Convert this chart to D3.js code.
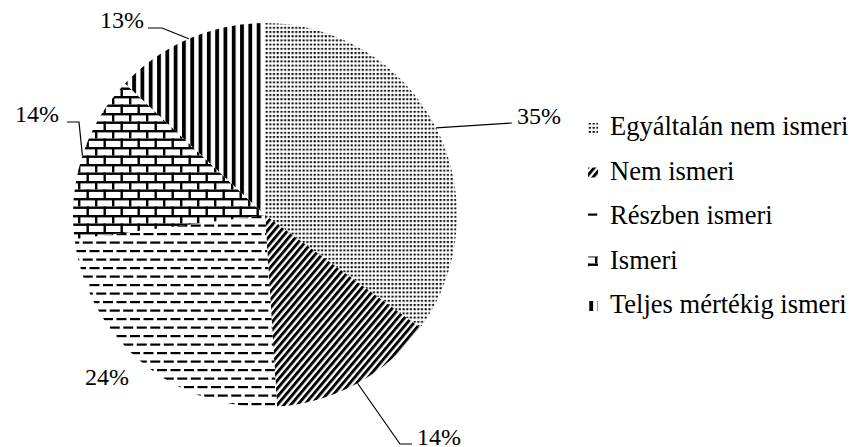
<!DOCTYPE html>
<html><head><meta charset="utf-8">
<script src="https://cdn.jsdelivr.net/npm/d3@7"></script>
<style>body{margin:0;background:#fff}svg{display:block}</style>
</head><body>
<svg id="c" width="853" height="447"></svg>
<script>
const categories = ["Egyáltalán nem ismeri","Nem ismeri","Részben ismeri","Ismeri","Teljes mértékig ismeri"];
const values = [35,14,24,14,13];
const labels = ["35%","14%","24%","14%","13%"];

const svg = d3.select("#c");
const defs = svg.append("defs");
const cx = 265, cy = 215, R = 192;
const FONT = '"Liberation Serif"';

function pat(id,w,h,build,transform){
  const p = defs.append("pattern").attr("id",id).attr("patternUnits","userSpaceOnUse")
    .attr("width",w).attr("height",h);
  if(transform) p.attr("patternTransform",transform);
  p.append("rect").attr("width",w).attr("height",h).attr("fill","#fff");
  build(p);
}
pat("p0",3.7,4.2,p=>p.append("rect").attr("x",0.6).attr("y",0.8).attr("width",2).attr("height",2).attr("fill","#000"));
pat("p1",5.2,5.2,p=>p.append("rect").attr("x",0).attr("y",0).attr("width",2.9).attr("height",5.2).attr("fill","#000"),"rotate(40)");
pat("p2",27,17,p=>{
  [[0,1],[13.5,1],[6.75,9.5],[20.25,9.5],[-6.75,9.5]].forEach(([x,y])=>
    p.append("rect").attr("x",x).attr("y",y).attr("width",10).attr("height",2.2).attr("fill","#000"));
});
pat("p3",17,17,p=>{
  p.append("rect").attr("x",0).attr("y",0).attr("width",17).attr("height",2.4).attr("fill","#000");
  p.append("rect").attr("x",0).attr("y",8.5).attr("width",17).attr("height",2.4).attr("fill","#000");
  p.append("rect").attr("x",0).attr("y",0).attr("width",2.4).attr("height",8.5).attr("fill","#000");
  p.append("rect").attr("x",8.5).attr("y",8.5).attr("width",2.4).attr("height",8.5).attr("fill","#000");
});
pat("p4",8.3,10,p=>p.append("rect").attr("x",0).attr("y",0).attr("width",3.8).attr("height",10).attr("fill","#000"));

const pie = d3.pie().sort(null).value(d=>d)(values);
const arc = d3.arc().innerRadius(0).outerRadius(R);
const edge = d3.arc().innerRadius(R).outerRadius(R);
const g = svg.append("g").attr("transform",`translate(${cx},${cy})`);
g.selectAll("path").data(pie).join("path").attr("d",arc).attr("fill",(d,i)=>`url(#p${i})`);

const labelLayout = [
  {x:517,y:124,pts:[[512,123]]},
  {x:417,y:445,pts:[[400,444],[412,444]]},
  {x:85,y:385,pts:null},
  {x:15,y:122,pts:[[79,122],[67,122]]},
  {x:100,y:28,pts:[[162,28],[148,28]]}
];
pie.forEach((d,i)=>{
  const L = labelLayout[i];
  if(L.pts){
    const c = edge.centroid(d);
    const pts = [[cx+c[0],cy+c[1]]].concat(L.pts);
    svg.append("path").attr("d",d3.line()(pts)).attr("fill","none").attr("stroke","#000").attr("stroke-width",1.2);
  }
  svg.append("text").attr("x",L.x).attr("y",L.y).style("font-family",FONT).style("font-size","24px")
    .attr("fill","#000").text(labels[i]);
});

const lg = svg.append("g");
categories.forEach((c,i)=>{
  const y = 135 + i*44.5;
  lg.append("rect").attr("x",588).attr("y",y-12).attr("width",10).attr("height",10).attr("fill",`url(#p${i})`);
  lg.append("text").attr("x",610).attr("y",y).style("font-family",FONT).style("font-size","26.5px")
    .attr("fill","#000").text(c);
});
</script>
</body></html>
